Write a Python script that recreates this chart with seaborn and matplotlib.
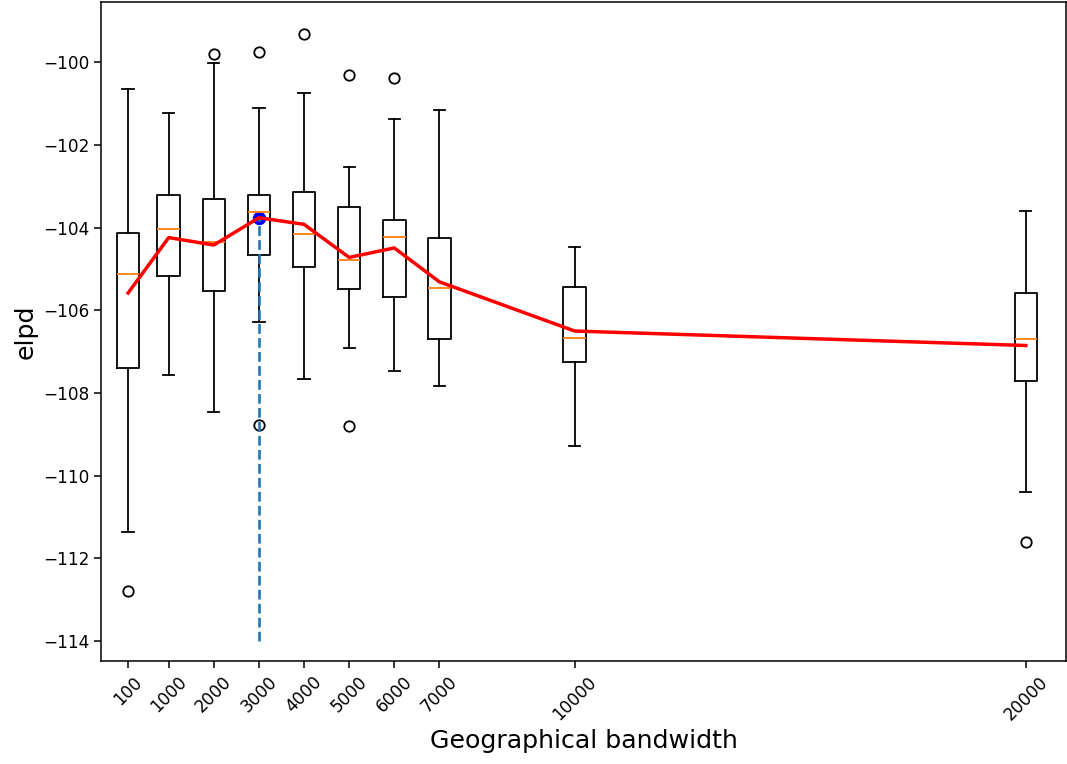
import matplotlib

matplotlib.use("Agg")
import matplotlib.pyplot as plt
import pandas as pd
import seaborn as sns

# bandwidths and the box statistics
bandwidths = [100, 1000, 2000, 3000, 4000, 5000, 6000, 7000, 10000, 20000]
medians = [-105.13, -104.04, -104.34, -103.63, -104.16, -104.79, -104.23, -105.46, -106.66, -106.69]
q1 = [-107.39, -105.17, -105.53, -104.65, -104.96, -105.48, -105.67, -106.70, -107.25, -107.70]
q3 = [-104.14, -103.20, -103.30, -103.22, -103.14, -103.51, -103.81, -104.25, -105.43, -105.57]
whisker_low = [-111.36, -107.57, -108.46, -106.29, -107.66, -106.91, -107.47, -107.82, -109.28, -110.40]
whisker_high = [-100.64, -101.23, -100.03, -101.11, -100.75, -102.54, -101.38, -101.16, -104.47, -103.59]
outliers = [
    [-112.78],
    [],
    [-99.81],
    [-99.75, -108.77],
    [-99.32],
    [-100.31, -108.79],
    [-100.37],
    [],
    [],
    [-111.60],
]
means = [-105.58, -104.24, -104.42, -103.76, -103.92, -104.72, -104.49, -105.31, -106.50, -106.85]

best_bandwidth = 3000
best_elpd = -103.76
floor_elpd = -114

stats = [
    {
        "med": medians[i],
        "q1": q1[i],
        "q3": q3[i],
        "whislo": whisker_low[i],
        "whishi": whisker_high[i],
        "fliers": outliers[i],
    }
    for i in range(len(bandwidths))
]
df = pd.DataFrame({"bandwidth": bandwidths, "elpd": means})

plt.rcParams["axes.linewidth"] = 1.1
plt.rcParams["xtick.major.size"] = 5
plt.rcParams["ytick.major.size"] = 5
plt.rcParams["xtick.major.width"] = 1.1
plt.rcParams["ytick.major.width"] = 1.1

fig, ax = plt.subplots(figsize=(10.67, 7.64), dpi=100)
fig.subplots_adjust(left=0.0947, right=0.999, top=0.997, bottom=0.1348)

line_kw = {"linewidth": 1.3, "color": "black"}
ax.bxp(
    stats,
    positions=bandwidths,
    widths=500,
    boxprops=line_kw,
    whiskerprops=line_kw,
    capprops=line_kw,
    medianprops={"linewidth": 1.3, "color": "#ff7f0e"},
    flierprops={"marker": "o", "markersize": 7.5, "markerfacecolor": "none",
                "markeredgecolor": "black", "markeredgewidth": 1.3},
)
sns.scatterplot(x=[best_bandwidth], y=[best_elpd], color="blue", s=80,
                edgecolor="blue", ax=ax, zorder=2)
ax.vlines(best_bandwidth, floor_elpd, best_elpd, colors="#1f77b4",
          linestyles="--", linewidth=1.9, zorder=2)
sns.lineplot(data=df, x="bandwidth", y="elpd", color="red", linewidth=2.5, ax=ax, zorder=3)

ax.set_xlim(-500, 20890)
ax.set_ylim(-114.48, -98.55)
ax.set_xticks(bandwidths)
ax.set_xticklabels([str(b) for b in bandwidths], rotation=45, fontsize=12.2)
ax.tick_params(axis="y", labelsize=12.2)
ax.set_xlabel("Geographical bandwidth", fontsize=18.2)
ax.set_ylabel("elpd", fontsize=18.2)

plt.savefig("out.png", dpi=100)
